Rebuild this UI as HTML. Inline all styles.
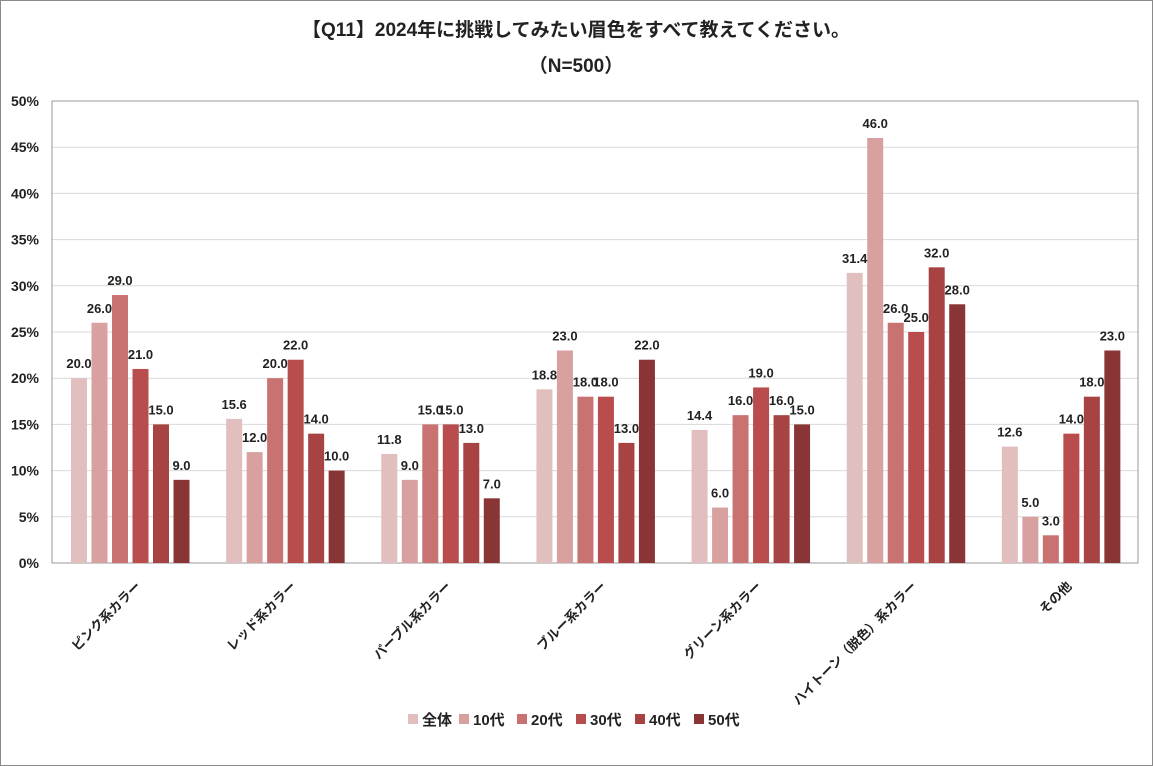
<!DOCTYPE html>
<html><head><meta charset="utf-8">
<style>
body{margin:0;background:#fff;}
svg{display:block;font-family:"Liberation Sans","Noto Sans CJK JP",sans-serif;}
</style></head>
<body>
<svg id="chart" width="1153" height="766" viewBox="0 0 1153 766">
<rect x="0.5" y="0.5" width="1152" height="765" fill="#fff" stroke="#8a8a8a"/>
<text x="576" y="36" text-anchor="middle" font-size="19" font-weight="bold" fill="#222">【Q11】2024年に挑戦してみたい眉色をすべて教えてください。</text>
<text x="576" y="72" text-anchor="middle" font-size="19" font-weight="bold" fill="#222">（N=500）</text>
<g id="grid"></g><g id="bars"></g><g id="labels"></g><g id="legend"></g>
</svg>
<script>
const categories=["ピンク系カラー","レッド系カラー","パープル系カラー","ブルー系カラー","グリーン系カラー","ハイトーン（脱色）系カラー","その他"];
const seriesNames=["全体","10代","20代","30代","40代","50代"];
const sAll=[20.0,15.6,11.8,18.8,14.4,31.4,12.6];
const s10=[26.0,12.0,9.0,23.0,6.0,46.0,5.0];
const s20=[29.0,20.0,15.0,18.0,16.0,26.0,3.0];
const s30=[21.0,22.0,15.0,18.0,19.0,25.0,14.0];
const s40=[15.0,14.0,13.0,13.0,16.0,32.0,18.0];
const s50=[9.0,10.0,7.0,22.0,15.0,28.0,23.0];
const yTicks=[0,5,10,15,20,25,30,35,40,45,50];
const series=[sAll,s10,s20,s30,s40,s50];
const colors=["#e2bfbf","#d9a0a0","#c97272","#b94d4d","#a84343","#8a3535"];
const NS="http://www.w3.org/2000/svg";
const L=52,R=1138,T=101,B=563;
const y=v=>B-(v/50)*(B-T);
const gw=(R-L)/categories.length;
const x=(ci,si)=>L+ci*gw+19+si*20.5;
function mk(tag,attrs,parent,text){const e=document.createElementNS(NS,tag);for(const k in attrs)e.setAttribute(k,attrs[k]);if(text!==undefined)e.textContent=text;parent.appendChild(e);return e;}
const grid=document.getElementById('grid'),bars=document.getElementById('bars'),labels=document.getElementById('labels'),legend=document.getElementById('legend');
yTicks.forEach(t=>{
 const ln=mk('line',{x1:L,x2:R,y1:y(t),y2:y(t),stroke:t===0?'#bdbdbd':'#d9d9d9','stroke-width':1},grid);
 
 
 const tx=mk('text',{x:39,y:y(t)+5,'text-anchor':'end','font-size':14,'font-weight':'bold',fill:'#222'},grid,t+'%');
 
 
});
const rb=mk('rect',{x:L,y:T,width:R-L,height:B-T,fill:'none',stroke:'#999'},grid);


categories.forEach((c,ci)=>{
 series.forEach((s,si)=>{
  const v=s[ci];
  const r=mk('rect',{x:x(ci,si),y:y(v),width:16,height:B-y(v),fill:colors[si]},bars);
  
  
  const t=mk('text',{x:x(ci,si)+8,y:y(v)-10,'text-anchor':'middle','font-size':13,'font-weight':'bold',fill:'#222'},labels,v.toFixed(1));
  
  
 });
 const cx=L+ci*gw+gw/2+12;
 const ct=mk('text',{x:cx,y:B+24,'text-anchor':'end','font-size':13,'font-weight':'bold',fill:'#222',transform:`rotate(-45 ${cx} ${B+24})`},labels,c);
 
 
});
const lx=[408,459,517,576,635,694];
seriesNames.forEach((n,i)=>{
 const sw=mk('rect',{x:lx[i],y:714,width:10,height:10,fill:colors[i]},legend);
 
 
 const t=mk('text',{x:lx[i]+14,y:725,'font-size':15,'font-weight':'bold',fill:'#222'},legend,n);
 
 
});
</script>
</body></html>
